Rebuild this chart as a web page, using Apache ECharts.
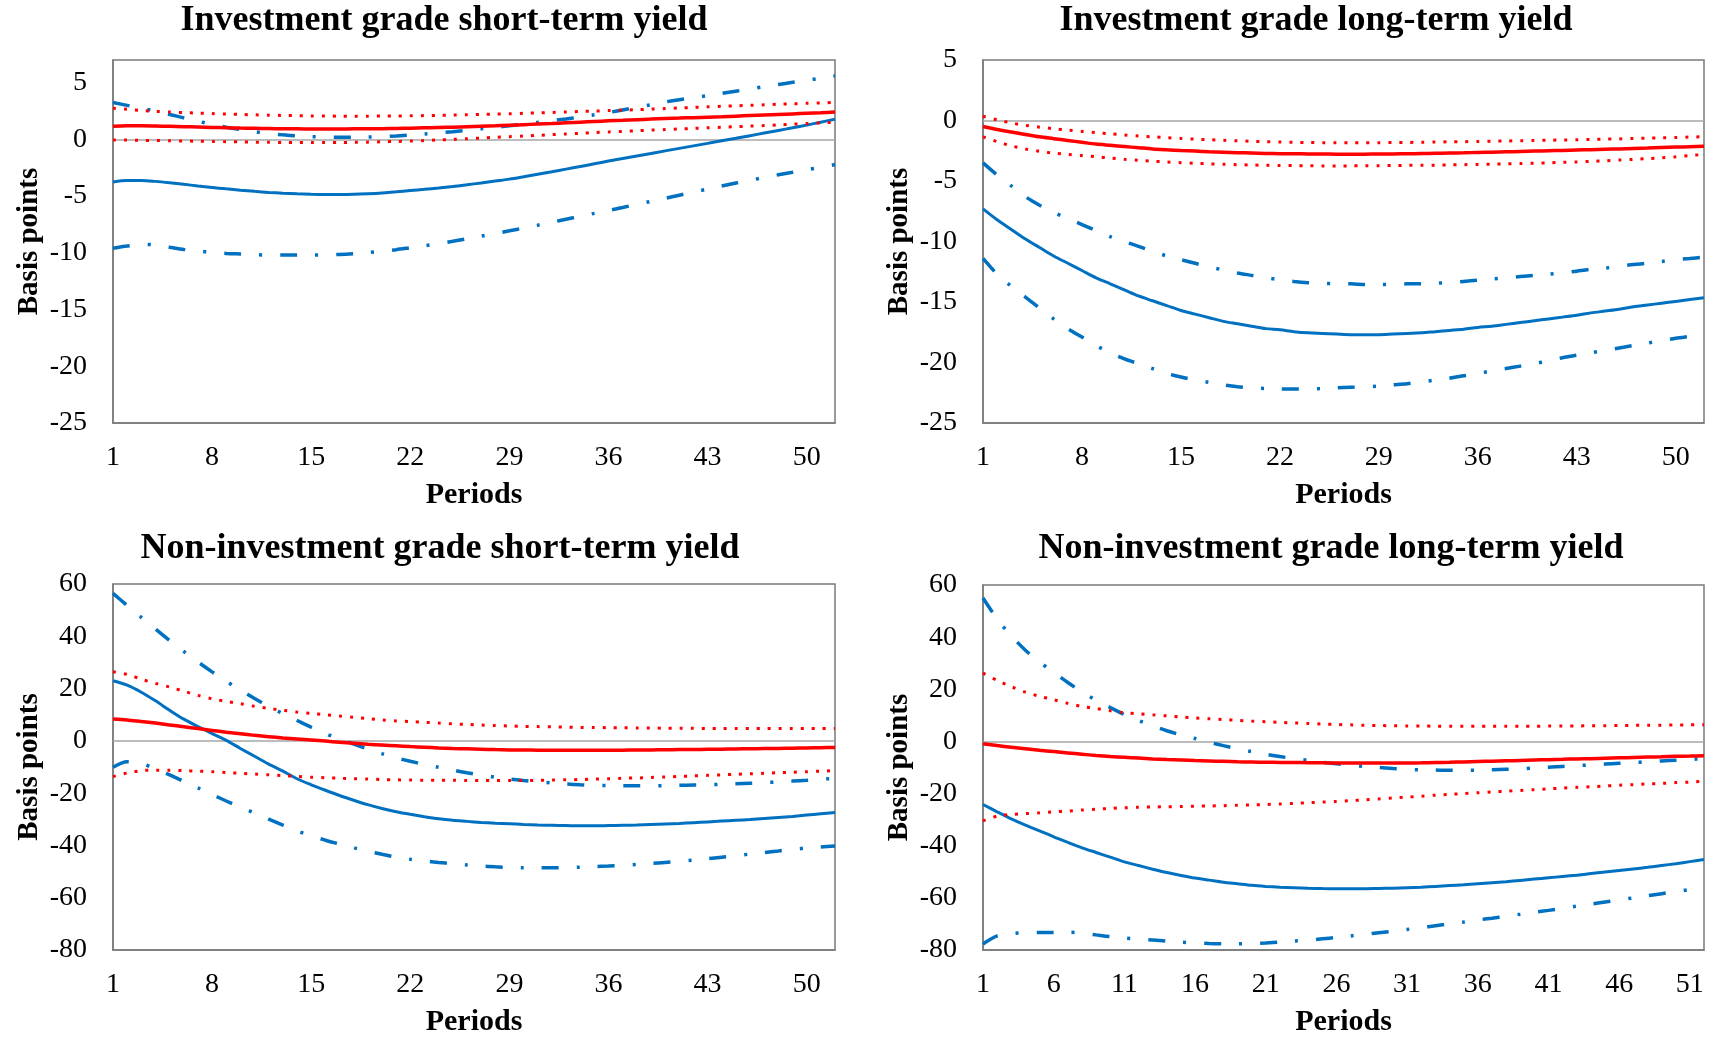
<!DOCTYPE html>
<html>
<head>
<meta charset="utf-8">
<title>Yield responses</title>
<script src="https://cdn.jsdelivr.net/npm/echarts@6/dist/echarts.min.js"></script>
<style>
  html, body { margin: 0; padding: 0; background: #fff; }
  #chart { width: 1718px; height: 1038px; }
</style>
</head>
<body>
<div id="chart"></div>
<script>
// Periods on the horizontal axis
const periods = ['1','2','3','4','5','6','7','8','9','10','11','12','13','14','15','16','17','18','19','20',
  '21','22','23','24','25','26','27','28','29','30','31','32','33','34','35','36','37','38','39','40',
  '41','42','43','44','45','46','47','48','49','50','51','52'];

const titles = [
  'Investment grade short-term yield',
  'Investment grade long-term yield',
  'Non-investment grade short-term yield',
  'Non-investment grade long-term yield'
];

// Y axis ranges (min, max, step) per panel
const yMin = [-25, -25, -80, -80];
const yMax = [7, 5, 60, 60];
const yStep = [5, 5, 20, 20];

// Investment grade, short-term yield (basis points)
const igsBlue = [-3.75,-3.62,-3.62,-3.7,-3.82,-3.96,-4.1,-4.23,-4.36,-4.48,-4.58,-4.67,-4.74,-4.8,-4.84,-4.86,-4.86,-4.84,-4.79,-4.72,-4.62,-4.5,-4.4,-4.28,-4.15,-4.0,-3.84,-3.67,-3.5,-3.29,-3.07,-2.85,-2.62,-2.39,-2.15,-1.91,-1.68,-1.46,-1.24,-1.01,-0.79,-0.57,-0.35,-0.12,0.1,0.33,0.56,0.79,1.02,1.26,1.52,1.78];
const igsBlueLow = [-9.6,-9.4,-9.25,-9.3,-9.5,-9.7,-9.85,-9.95,-10.05,-10.1,-10.15,-10.2,-10.2,-10.2,-10.2,-10.18,-10.14,-10.07,-9.98,-9.86,-9.72,-9.55,-9.38,-9.19,-8.98,-8.76,-8.53,-8.3,-8.06,-7.81,-7.56,-7.3,-7.04,-6.78,-6.52,-6.26,-6.0,-5.73,-5.46,-5.19,-4.92,-4.65,-4.38,-4.11,-3.85,-3.6,-3.36,-3.12,-2.9,-2.68,-2.45,-2.22];
const igsBlueHigh = [3.25,3.0,2.75,2.5,2.2,1.9,1.6,1.32,1.08,0.87,0.68,0.52,0.4,0.31,0.25,0.2,0.18,0.18,0.2,0.24,0.3,0.38,0.47,0.57,0.68,0.8,0.93,1.06,1.2,1.35,1.5,1.65,1.8,1.98,2.17,2.37,2.6,2.83,3.06,3.3,3.5,3.68,3.86,4.05,4.25,4.45,4.65,4.84,5.03,5.22,5.4,5.6];
const igsRed = [1.15,1.2,1.2,1.18,1.15,1.12,1.09,1.06,1.03,1.0,0.98,0.96,0.94,0.93,0.92,0.92,0.92,0.93,0.94,0.95,0.97,0.99,1.02,1.05,1.08,1.12,1.16,1.2,1.25,1.3,1.35,1.4,1.46,1.52,1.58,1.64,1.69,1.74,1.79,1.84,1.88,1.92,1.96,2.0,2.05,2.1,2.15,2.2,2.25,2.3,2.35,2.42];
const igsRedHigh = [2.75,2.65,2.55,2.47,2.41,2.36,2.32,2.28,2.24,2.2,2.17,2.14,2.11,2.09,2.07,2.06,2.05,2.05,2.05,2.06,2.07,2.08,2.1,2.12,2.14,2.17,2.2,2.23,2.26,2.3,2.34,2.38,2.42,2.46,2.5,2.54,2.58,2.62,2.67,2.72,2.77,2.82,2.87,2.92,2.96,3.0,3.05,3.1,3.14,3.18,3.22,3.26];
const igsRedLow = [-0.05,-0.06,-0.08,-0.1,-0.12,-0.14,-0.16,-0.18,-0.2,-0.22,-0.24,-0.26,-0.27,-0.28,-0.28,-0.28,-0.27,-0.26,-0.24,-0.21,-0.18,-0.15,-0.1,-0.05,0.0,0.06,0.12,0.18,0.24,0.3,0.36,0.42,0.48,0.54,0.6,0.66,0.71,0.76,0.82,0.87,0.92,0.97,1.02,1.07,1.12,1.17,1.22,1.28,1.34,1.4,1.46,1.5];

// Investment grade, long-term yield
const iglBlue = [-7.3,-8.2,-9.0,-9.8,-10.5,-11.2,-11.8,-12.4,-13.0,-13.5,-14.0,-14.5,-14.9,-15.3,-15.7,-16.0,-16.3,-16.6,-16.8,-17.0,-17.2,-17.3,-17.45,-17.55,-17.6,-17.65,-17.7,-17.7,-17.7,-17.65,-17.6,-17.55,-17.45,-17.35,-17.25,-17.1,-17.0,-16.85,-16.7,-16.55,-16.4,-16.25,-16.1,-15.9,-15.75,-15.6,-15.4,-15.25,-15.1,-14.95,-14.8,-14.65];
const iglBlueLow = [-11.4,-12.7,-13.7,-14.6,-15.5,-16.4,-17.2,-17.9,-18.6,-19.2,-19.7,-20.1,-20.5,-20.9,-21.2,-21.45,-21.65,-21.85,-22.0,-22.1,-22.15,-22.2,-22.2,-22.2,-22.15,-22.1,-22.05,-22.0,-21.95,-21.85,-21.75,-21.6,-21.45,-21.3,-21.1,-20.9,-20.7,-20.5,-20.3,-20.1,-19.85,-19.6,-19.4,-19.2,-19.0,-18.8,-18.6,-18.4,-18.2,-18.0,-17.85,-17.7];
const iglBlueHigh = [-3.5,-4.5,-5.4,-6.3,-7.0,-7.6,-8.1,-8.6,-9.1,-9.6,-10.0,-10.4,-10.8,-11.2,-11.5,-11.8,-12.1,-12.35,-12.6,-12.8,-13.0,-13.15,-13.3,-13.4,-13.45,-13.5,-13.5,-13.55,-13.55,-13.55,-13.5,-13.5,-13.45,-13.4,-13.3,-13.2,-13.1,-13.0,-12.9,-12.8,-12.7,-12.6,-12.45,-12.3,-12.2,-12.05,-11.9,-11.8,-11.65,-11.5,-11.4,-11.3];
const iglRed = [-0.5,-0.75,-0.95,-1.15,-1.35,-1.5,-1.65,-1.8,-1.95,-2.05,-2.15,-2.25,-2.35,-2.42,-2.48,-2.53,-2.58,-2.62,-2.66,-2.69,-2.72,-2.74,-2.75,-2.76,-2.77,-2.78,-2.78,-2.78,-2.77,-2.76,-2.75,-2.73,-2.71,-2.69,-2.67,-2.64,-2.62,-2.59,-2.56,-2.53,-2.5,-2.47,-2.44,-2.41,-2.38,-2.35,-2.31,-2.28,-2.24,-2.2,-2.16,-2.12];
const iglRedHigh = [0.35,0.05,-0.2,-0.4,-0.55,-0.68,-0.8,-0.9,-1.0,-1.1,-1.2,-1.28,-1.35,-1.42,-1.48,-1.54,-1.59,-1.64,-1.68,-1.72,-1.75,-1.78,-1.8,-1.82,-1.83,-1.84,-1.84,-1.84,-1.83,-1.82,-1.81,-1.8,-1.78,-1.76,-1.75,-1.73,-1.71,-1.69,-1.67,-1.65,-1.63,-1.61,-1.59,-1.57,-1.54,-1.52,-1.49,-1.46,-1.43,-1.4,-1.37,-1.34];
const iglRedLow = [-1.35,-1.75,-2.1,-2.35,-2.55,-2.7,-2.8,-2.9,-3.0,-3.1,-3.2,-3.28,-3.36,-3.43,-3.49,-3.54,-3.58,-3.62,-3.65,-3.68,-3.7,-3.72,-3.73,-3.74,-3.75,-3.75,-3.75,-3.74,-3.73,-3.72,-3.71,-3.7,-3.69,-3.67,-3.65,-3.63,-3.61,-3.58,-3.56,-3.53,-3.5,-3.46,-3.42,-3.38,-3.33,-3.27,-3.21,-3.15,-3.08,-3.0,-2.9,-2.8];

// Non-investment grade, short-term yield
const nigsBlue = [23.0,21.3,18.6,15.3,11.7,8.3,5.5,2.8,0.2,-2.9,-5.9,-8.9,-11.6,-14.5,-16.8,-18.9,-20.9,-22.7,-24.4,-25.9,-27.1,-28.1,-29.0,-29.8,-30.4,-30.8,-31.2,-31.5,-31.7,-32.0,-32.2,-32.3,-32.4,-32.5,-32.5,-32.4,-32.3,-32.2,-32.0,-31.8,-31.6,-31.3,-31.0,-30.7,-30.4,-30.1,-29.7,-29.3,-28.9,-28.4,-27.9,-27.4];
const nigsBlueLow = [-10.1,-8.0,-8.6,-10.8,-13.0,-15.5,-18.0,-20.5,-23.0,-25.4,-27.6,-29.9,-32.2,-34.4,-36.3,-38.0,-39.5,-40.9,-42.2,-43.4,-44.5,-45.3,-45.9,-46.5,-47.0,-47.5,-47.9,-48.2,-48.4,-48.5,-48.5,-48.5,-48.5,-48.3,-48.1,-47.9,-47.6,-47.3,-46.9,-46.5,-46.1,-45.6,-45.1,-44.5,-43.9,-43.3,-42.7,-42.1,-41.5,-41.0,-40.6,-40.2];
const nigsBlueHigh = [56.4,51.8,47.2,42.8,38.4,34.2,30.2,26.4,22.8,19.4,16.2,13.2,10.4,7.8,5.2,2.8,0.7,-1.2,-3.1,-4.9,-6.5,-7.8,-9.0,-10.1,-11.2,-12.2,-13.1,-13.9,-14.6,-15.2,-15.7,-16.1,-16.5,-16.8,-17.0,-17.1,-17.2,-17.2,-17.2,-17.1,-17.0,-16.9,-16.8,-16.6,-16.4,-16.2,-16.0,-15.7,-15.4,-15.1,-14.7,-14.3];
const nigsRed = [8.4,8.0,7.4,6.8,6.1,5.4,4.7,4.0,3.3,2.7,2.1,1.6,1.1,0.7,0.3,-0.1,-0.5,-0.9,-1.3,-1.6,-1.9,-2.2,-2.45,-2.7,-2.9,-3.05,-3.2,-3.35,-3.45,-3.5,-3.55,-3.6,-3.6,-3.6,-3.6,-3.6,-3.55,-3.5,-3.45,-3.4,-3.35,-3.3,-3.25,-3.2,-3.1,-3.0,-2.95,-2.9,-2.8,-2.7,-2.6,-2.5];
const nigsRedHigh = [26.4,25.4,23.6,22.0,20.6,19.0,17.4,16.1,15.1,14.2,13.2,12.4,11.7,11.0,10.5,10.0,9.5,9.0,8.5,8.0,7.6,7.4,7.1,6.8,6.5,6.3,6.05,5.85,5.7,5.55,5.45,5.35,5.25,5.15,5.1,5.05,5.0,4.95,4.9,4.85,4.8,4.8,4.75,4.75,4.7,4.7,4.7,4.7,4.7,4.7,4.7,4.7];
const nigsRedLow = [-13.7,-12.3,-11.4,-11.2,-11.2,-11.4,-11.6,-11.8,-12.1,-12.4,-12.7,-13.0,-13.3,-13.6,-13.9,-14.1,-14.3,-14.5,-14.6,-14.8,-14.9,-15.0,-15.1,-15.1,-15.1,-15.2,-15.2,-15.2,-15.2,-15.2,-15.1,-15.0,-14.9,-14.8,-14.6,-14.5,-14.3,-14.2,-14.0,-13.8,-13.6,-13.4,-13.2,-13.0,-12.8,-12.6,-12.4,-12.2,-12.0,-11.8,-11.6,-11.4];

// Non-investment grade, long-term yield
const niglBlue = [-24.2,-27.0,-29.7,-32.1,-34.3,-36.6,-38.7,-40.8,-42.6,-44.4,-46.2,-47.6,-49.0,-50.3,-51.4,-52.4,-53.2,-54.0,-54.6,-55.2,-55.6,-55.9,-56.1,-56.3,-56.45,-56.5,-56.5,-56.5,-56.4,-56.3,-56.1,-55.9,-55.6,-55.3,-55.0,-54.6,-54.2,-53.8,-53.3,-52.8,-52.3,-51.8,-51.3,-50.7,-50.1,-49.5,-48.9,-48.3,-47.6,-46.9,-46.1,-45.3];
const niglBlueLow = [-77.7,-74.6,-73.7,-73.4,-73.3,-73.3,-73.2,-73.5,-74.2,-74.9,-75.4,-75.8,-76.2,-76.6,-77.0,-77.3,-77.5,-77.6,-77.6,-77.5,-77.3,-77.0,-76.6,-76.2,-75.7,-75.2,-74.6,-74.0,-73.4,-72.8,-72.1,-71.4,-70.7,-70.0,-69.3,-68.5,-67.8,-67.0,-66.3,-65.5,-64.8,-64.0,-63.2,-62.4,-61.6,-60.8,-60.0,-59.2,-58.4,-57.6,-56.8,-56.0];
const niglBlueHigh = [55.0,47.0,40.5,35.0,30.5,26.5,22.6,19.0,15.8,13.0,10.3,8.0,6.0,4.1,2.5,1.1,-0.3,-1.6,-2.8,-3.9,-4.9,-5.8,-6.6,-7.3,-8.0,-8.6,-9.1,-9.6,-10.0,-10.4,-10.7,-10.9,-11.0,-11.1,-11.1,-11.0,-10.9,-10.7,-10.5,-10.2,-9.9,-9.6,-9.3,-9.0,-8.7,-8.4,-8.1,-7.8,-7.5,-7.2,-6.9,-6.6];
const niglRed = [-0.9,-1.6,-2.2,-2.8,-3.4,-3.9,-4.4,-4.9,-5.4,-5.8,-6.1,-6.4,-6.7,-6.95,-7.15,-7.35,-7.5,-7.65,-7.8,-7.9,-8.0,-8.05,-8.1,-8.15,-8.2,-8.25,-8.25,-8.3,-8.3,-8.3,-8.25,-8.2,-8.1,-8.0,-7.85,-7.7,-7.6,-7.45,-7.3,-7.15,-7.0,-6.85,-6.7,-6.6,-6.45,-6.3,-6.15,-6.0,-5.85,-5.7,-5.6,-5.5];
const niglRedHigh = [26.2,23.4,21.0,18.9,17.3,16.0,14.6,13.4,12.6,11.8,11.0,10.6,10.2,9.8,9.4,9.0,8.7,8.4,8.1,7.8,7.55,7.3,7.1,6.9,6.7,6.5,6.35,6.2,6.1,6.0,5.95,5.9,5.85,5.8,5.8,5.8,5.8,5.8,5.85,5.85,5.9,5.9,5.95,6.0,6.05,6.1,6.15,6.2,6.25,6.3,6.35,6.4];
const niglRedLow = [-30.5,-28.6,-28.0,-27.7,-27.4,-27.0,-26.7,-26.3,-26.0,-25.7,-25.45,-25.25,-25.15,-25.05,-24.95,-24.85,-24.75,-24.65,-24.5,-24.35,-24.2,-24.0,-23.75,-23.5,-23.25,-23.0,-22.7,-22.4,-22.05,-21.7,-21.35,-21.0,-20.6,-20.3,-20.0,-19.7,-19.4,-19.1,-18.8,-18.5,-18.2,-17.9,-17.6,-17.4,-17.1,-16.8,-16.6,-16.3,-16.1,-15.8,-15.6,-15.3];

const panels = [
  { blue: igsBlue, blueLow: igsBlueLow, blueHigh: igsBlueHigh, red: igsRed, redLow: igsRedLow, redHigh: igsRedHigh },
  { blue: iglBlue, blueLow: iglBlueLow, blueHigh: iglBlueHigh, red: iglRed, redLow: iglRedLow, redHigh: iglRedHigh },
  { blue: nigsBlue, blueLow: nigsBlueLow, blueHigh: nigsBlueHigh, red: nigsRed, redLow: nigsRedLow, redHigh: nigsRedHigh },
  { blue: niglBlue, blueLow: niglBlueLow, blueHigh: niglBlueHigh, red: niglRed, redLow: niglRedLow, redHigh: niglRedHigh }
];

// Layout of the four plot areas
const grids = [
  { left: 113, top: 60, width: 722, height: 363 },
  { left: 983, top: 60, width: 721, height: 363 },
  { left: 113, top: 584, width: 722, height: 368 },
  { left: 983, top: 585, width: 721, height: 367 }
];
const titlePos = [[444, 21], [1316, 21], [440, 549], [1331, 549]];
const labelEvery = [6, 6, 6, 4];

const BLUE = '#0070C0';
const RED = '#FF0000';
const SERIF = '"Liberation Serif", "Times New Roman", serif';
const DASH_DOT = [17, 18, 3, 18];
const DOTS = [3, 8];

const option = {
  animation: false,
  backgroundColor: '#ffffff',
  grid: grids.map(g => Object.assign({ show: true, borderColor: '#7a7a7a', borderWidth: 1.5, backgroundColor: 'transparent', containLabel: false }, g)),
  graphic: titles.map((t, i) => ({
    type: 'text', x: titlePos[i][0], y: titlePos[i][1], silent: true,
    style: { text: t, font: 'bold 36px ' + SERIF, fill: '#000', align: 'center', verticalAlign: 'middle' }
  })),
  xAxis: grids.map((g, i) => ({
    type: 'category', gridIndex: i, data: periods, boundaryGap: false,
    name: 'Periods', nameLocation: 'middle', nameGap: 57,
    nameTextStyle: { fontFamily: SERIF, fontWeight: 'bold', fontSize: 30, color: '#000' },
    axisLine: { onZero: false, lineStyle: { color: '#7a7a7a', width: 1.5 } },
    axisTick: { show: false },
    axisLabel: { interval: labelEvery[i], fontFamily: SERIF, fontSize: 28, color: '#000', margin: 21 },
    splitLine: { show: false }
  })),
  yAxis: grids.map((g, i) => ({
    type: 'value', gridIndex: i, min: yMin[i], max: yMax[i], interval: yStep[i],
    name: 'Basis points', nameLocation: 'middle', nameRotate: 90, nameGap: 69,
    nameTextStyle: { fontFamily: SERIF, fontWeight: 'bold', fontSize: 29, color: '#000' },
    axisLine: { show: true, lineStyle: { color: '#7a7a7a', width: 1.5 } },
    axisTick: { show: false },
    axisLabel: { fontFamily: SERIF, fontSize: 28, color: '#000', margin: 26, showMaxLabel: yMax[i] % yStep[i] === 0 },
    splitLine: { show: false }
  })),
  series: []
};

panels.forEach((p, i) => {
  const base = { type: 'line', xAxisIndex: i, yAxisIndex: i, symbol: 'none', smooth: 0.3, silent: true };
  option.series.push(Object.assign({}, base, {
    data: p.blue, z: 3,
    lineStyle: { color: BLUE, width: 3 },
    markLine: {
      silent: true, symbol: ['none', 'none'], label: { show: false },
      lineStyle: { color: '#a6a6a6', width: 1.5, type: 'solid' },
      data: [{ yAxis: 0 }], z: 1
    }
  }));
  option.series.push(Object.assign({}, base, {
    data: p.blueHigh, z: 3,
    lineStyle: { color: BLUE, width: 3.5, type: DASH_DOT, cap: 'butt' }
  }));
  option.series.push(Object.assign({}, base, {
    data: p.blueLow, z: 3,
    lineStyle: { color: BLUE, width: 3.5, type: DASH_DOT, cap: 'butt' }
  }));
  option.series.push(Object.assign({}, base, {
    data: p.red, z: 4,
    lineStyle: { color: RED, width: 3.5 }
  }));
  option.series.push(Object.assign({}, base, {
    data: p.redHigh, z: 4,
    lineStyle: { color: RED, width: 3, type: DOTS, cap: 'butt' }
  }));
  option.series.push(Object.assign({}, base, {
    data: p.redLow, z: 4,
    lineStyle: { color: RED, width: 3, type: DOTS, cap: 'butt' }
  }));
});

const chart = echarts.init(document.getElementById('chart'), null, { renderer: 'canvas' });
chart.setOption(option);
</script>
</body>
</html>
